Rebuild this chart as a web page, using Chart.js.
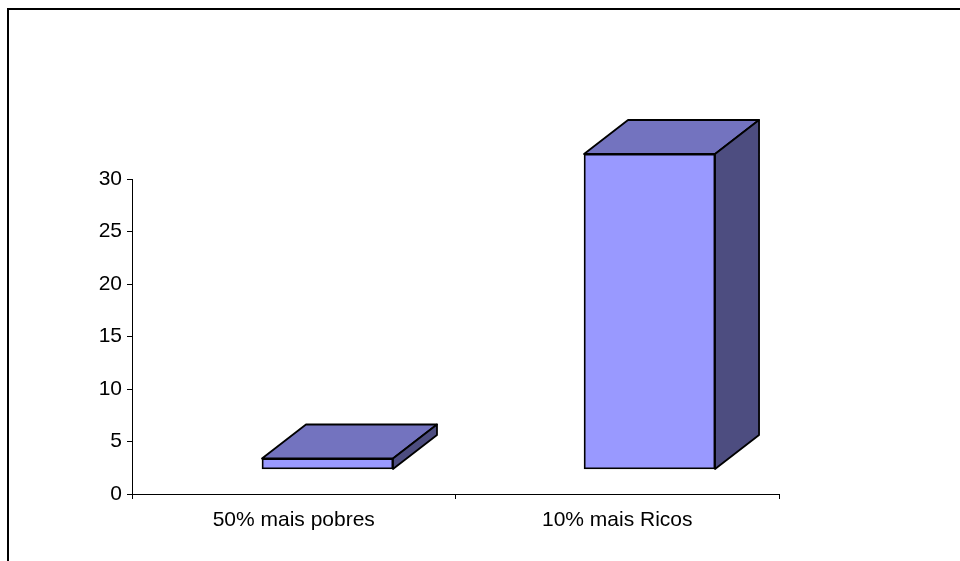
<!DOCTYPE html>
<html>
<head>
<meta charset="utf-8">
<script src="https://cdn.jsdelivr.net/npm/chart.js@4.4.1/dist/chart.umd.min.js"></script>
<style>
    html, body { margin: 0; padding: 0; background: #fff; overflow: hidden; }
    #wrap { position: relative; width: 960px; height: 561px; }
    #frame {
        position: absolute; left: 7px; top: 8px; width: 1000px; height: 600px;
        border-left: 2px solid #000; border-top: 2px solid #000;
    }
    #chartBox { position: absolute; left: 0; top: 0; width: 960px; height: 561px; }
</style>
</head>
<body>
<div id="wrap">
    <div id="frame"></div>
    <div id="chartBox"><canvas id="incomeChart"></canvas></div>
</div>
<script>
const categories = ['50% mais pobres', '10% mais Ricos'];
const shareValues = [1, 30];
const yTicks = [0, 5, 10, 15, 20, 25, 30];

// 3D look, Excel style
const DEPTH_X = 44;
const DEPTH_Y = -34;
const FLOOR_LIFT = 25 / 10.5;   // front of the floor sits above the axis zero

const faceColors = { front: '#9999FF', top: '#7373BF', side: '#4D4D80' };

const box3d = {
    id: 'box3d',
    afterDatasetsDraw(chart) {
        const ctx = chart.ctx;
        chart.getDatasetMeta(0).data.forEach(bar => {
            const p = bar.getProps(['x', 'y', 'base', 'width'], true);
            const left = p.x - p.width / 2;
            const right = p.x + p.width / 2;
            ctx.save();
            ctx.lineWidth = 1.8;
            ctx.strokeStyle = '#000';
            ctx.lineJoin = 'round';
            // top face
            ctx.beginPath();
            ctx.moveTo(left, p.y);
            ctx.lineTo(left + DEPTH_X, p.y + DEPTH_Y);
            ctx.lineTo(right + DEPTH_X, p.y + DEPTH_Y);
            ctx.lineTo(right, p.y);
            ctx.closePath();
            ctx.fillStyle = faceColors.top;
            ctx.fill();
            ctx.stroke();
            // side face
            ctx.beginPath();
            ctx.moveTo(right, p.y);
            ctx.lineTo(right + DEPTH_X, p.y + DEPTH_Y);
            ctx.lineTo(right + DEPTH_X, p.base + DEPTH_Y);
            ctx.lineTo(right, p.base);
            ctx.closePath();
            ctx.fillStyle = faceColors.side;
            ctx.fill();
            ctx.stroke();
            ctx.restore();
        });
    }
};

Chart.defaults.font.family = "'Liberation Sans', Arial, sans-serif";
Chart.defaults.font.size = 21;
Chart.defaults.color = '#000';

const ctx = document.getElementById('incomeChart').getContext('2d');
new Chart(ctx, {
    type: 'bar',
    data: {
        labels: categories,
        datasets: [{
            data: shareValues.map((v, i) => ({ x: i, y: v })),
            xAxisID: 'xBar',
            yAxisID: 'yBar',
            backgroundColor: faceColors.front,
            borderColor: '#000',
            borderWidth: 1.8,
            borderSkipped: false,
            barThickness: 131,
            clip: false
        }]
    },
    options: {
        responsive: true,
        maintainAspectRatio: false,
        animation: false,
        layout: { padding: { left: 0, top: 179, right: 181, bottom: 0 } },
        plugins: {
            legend: { display: false },
            tooltip: { enabled: false }
        },
        scales: {
            x: {
                type: 'category',
                offset: true,
                afterFit: scale => { scale.height = 67; },
                grid: { offset: true, drawOnChartArea: false, tickLength: 5, color: '#000' },
                border: { color: '#000', width: 1 },
                ticks: { padding: 9, maxRotation: 0 }
            },
            y: {
                type: 'linear',
                min: yTicks[0],
                max: yTicks[yTicks.length - 1],
                afterFit: scale => { scale.width = 132; },
                afterBuildTicks: scale => { scale.ticks = yTicks.map(v => ({ value: v })); },
                grid: { drawOnChartArea: false, tickLength: 5, color: '#000' },
                border: { color: '#000', width: 1 },
                ticks: { padding: 5 }
            },
            xBar: {
                type: 'linear',
                display: false,
                offset: false,
                grid: { offset: false },
                min: -0.607,
                max: 1.402
            },
            yBar: {
                type: 'linear',
                display: false,
                min: yTicks[0] - FLOOR_LIFT,
                max: yTicks[yTicks.length - 1] - FLOOR_LIFT
            }
        }
    },
    plugins: [box3d]
});
</script>
</body>
</html>
